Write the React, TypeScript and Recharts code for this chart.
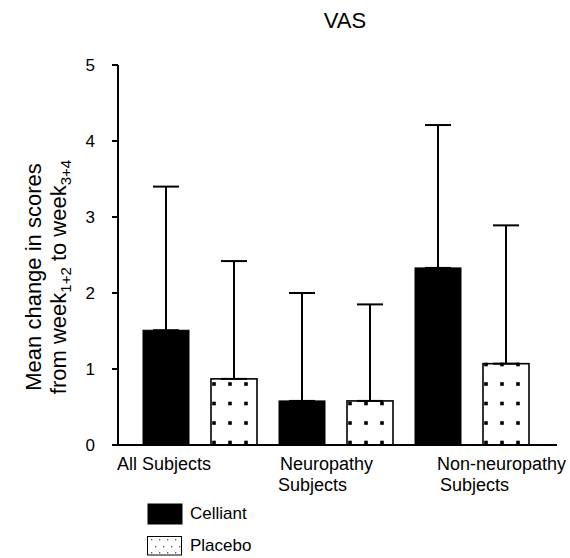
import React from 'react';
import { BarChart, Bar, XAxis, YAxis, ErrorBar, Legend } from 'recharts';

const categories = ['All Subjects', 'Neuropathy\nSubjects', 'Non-neuropathy\nSubjects'];
const celliantMean = [1.51, 0.58, 2.33];
const celliantSD = [1.89, 1.42, 1.88];
const placeboMean = [0.87, 0.58, 1.07];
const placeboSD = [1.55, 1.27, 1.82];
const yTicks = [0, 1, 2, 3, 4, 5];

const data = categories.map((c, i) => ({
  name: c,
  celliant: celliantMean[i],
  celliantErr: [0, celliantSD[i]],
  placebo: placeboMean[i],
  placeboErr: [0, placeboSD[i]],
}));

const FONT = '"Liberation Sans", Arial, Helvetica, sans-serif';
const TICK_DX = [[-83], [-56, -58], [-35, -32]];

const CategoryTick = (props: any) => {
  const { x, y, payload, index } = props;
  const lines = String(payload.value).split('\n');
  const dxs = TICK_DX[index] || [0];
  return (
    <g>
      {lines.map((ln, i) => (
        <text
          key={i}
          x={x + (dxs[i] ?? dxs[0])}
          y={y + 25 + i * 21}
          textAnchor="start"
          fontFamily={FONT}
          fontSize={18}
          fill="#000"
        >
          {ln}
        </text>
      ))}
    </g>
  );
};

const PlaceboShape = (props: any) => {
  const { x, y, width, height } = props;
  if (!width || !height) return null;
  const dots: React.ReactNode[] = [];
  const bottom = y + height;
  let k = 0;
  for (let ry = bottom - 2.5; ry >= y - 1; ry -= 19.5) {
    for (let cx = x + 3; cx <= x + width - 2; cx += 16) {
      dots.push(<rect key={k++} x={cx - 1.8} y={ry - 1.8} width={3.6} height={3.6} fill="#000" />);
    }
  }
  return (
    <g>
      <rect x={x} y={y} width={width} height={height} fill="#fff" stroke="#000" strokeWidth={1.6} />
      {dots}
    </g>
  );
};

const CelliantShape = (props: any) => {
  const { x, y, width, height } = props;
  if (!width || !height) return null;
  return <rect x={x} y={y} width={width} height={height} fill="#000" stroke="#000" strokeWidth={1} />;
};

const LegendContent = () => (
  <div style={{ fontFamily: FONT, fontSize: 17, color: '#000' }}>
    <div style={{ display: 'flex', alignItems: 'center', height: 21, marginBottom: 12 }}>
      <svg width={36} height={22} style={{ display: 'block' }}>
        <rect x={0.5} y={0.5} width={35} height={21} fill="#000" />
      </svg>
      <span style={{ marginLeft: 7, lineHeight: '21px' }}>Celliant</span>
    </div>
    <div style={{ display: 'flex', alignItems: 'center', height: 20 }}>
      <svg width={36} height={20} style={{ display: 'block' }}>
        <rect x={0.5} y={0.5} width={34} height={18.5} fill="#fff" stroke="#000" strokeWidth={1} />
        {[4, 12, 20, 28].map((cx, i) => (
          <rect key={'a' + i} x={cx} y={3} width={1.3} height={1.3} fill="#555" />
        ))}
        {[8, 16, 24, 32].map((cx, i) => (
          <rect key={'b' + i} x={cx} y={10} width={1.3} height={1.3} fill="#555" />
        ))}
        {[4, 12, 20, 28].map((cx, i) => (
          <rect key={'c' + i} x={cx} y={16} width={1.3} height={1.3} fill="#555" />
        ))}
      </svg>
      <span style={{ marginLeft: 7, lineHeight: '20px' }}>Placebo</span>
    </div>
  </div>
);

const YLabel = () => (
  <g fontFamily={FONT} fill="#000">
    <text x={41} y={277} transform="rotate(-90, 41, 277)" textAnchor="middle" fontSize={22}>
      Mean change in scores
    </text>
    <text x={66} y={277} transform="rotate(-90, 66, 277)" textAnchor="middle" fontSize={22}>
      <tspan>from week</tspan>
      <tspan fontSize={15} dy={5}>1+2</tspan>
      <tspan dy={-5}> to week</tspan>
      <tspan fontSize={15} dy={5}>3+4</tspan>
    </text>
  </g>
);

export default function App() {
  return (
    <div style={{ position: 'absolute', left: 0, top: 0, width: 570, height: 558, background: '#fff' }}>
      <div
        style={{
          position: 'absolute',
          left: 0,
          top: 10,
          width: 690,
          textAlign: 'center',
          fontFamily: FONT,
          fontSize: 22,
          lineHeight: '22px',
          color: '#000',
        }}
      >
        VAS
      </div>
      <BarChart
        width={570}
        height={558}
        data={data}
        margin={{ top: 65, right: 13, bottom: 83, left: 58 }}
        barSize={46}
        barGap={22}
      >
        <XAxis
          dataKey="name"
          axisLine={{ stroke: '#000', strokeWidth: 2 }}
          tickLine={false}
          tickSize={0}
          tickMargin={0}
          height={30}
          padding={{ left: 14, right: 17 }}
          tick={<CategoryTick />}
          interval={0}
        />
        <YAxis
          domain={[0, 5]}
          ticks={yTicks}
          width={60}
          axisLine={{ stroke: '#000', strokeWidth: 2 }}
          tickLine={{ stroke: '#000', strokeWidth: 2 }}
          tickSize={6}
          tickMargin={17}
          tick={{ fill: '#000', fontSize: 17, fontFamily: FONT }}
          label={{ content: () => <YLabel /> }}
        />
        <Legend
          layout="horizontal"
          verticalAlign="middle"
          align="center"
          wrapperStyle={{ left: 147, top: 503, width: 200 }}
          content={() => <LegendContent />}
        />
        <Bar dataKey="celliant" name="Celliant" fill="#000" shape={<CelliantShape />} isAnimationActive={false}>
          <ErrorBar dataKey="celliantErr" direction="y" width={13} stroke="#000" strokeWidth={2} />
        </Bar>
        <Bar dataKey="placebo" name="Placebo" fill="#fff" shape={<PlaceboShape />} isAnimationActive={false}>
          <ErrorBar dataKey="placeboErr" direction="y" width={13} stroke="#000" strokeWidth={2} />
        </Bar>
      </BarChart>
    </div>
  );
}
